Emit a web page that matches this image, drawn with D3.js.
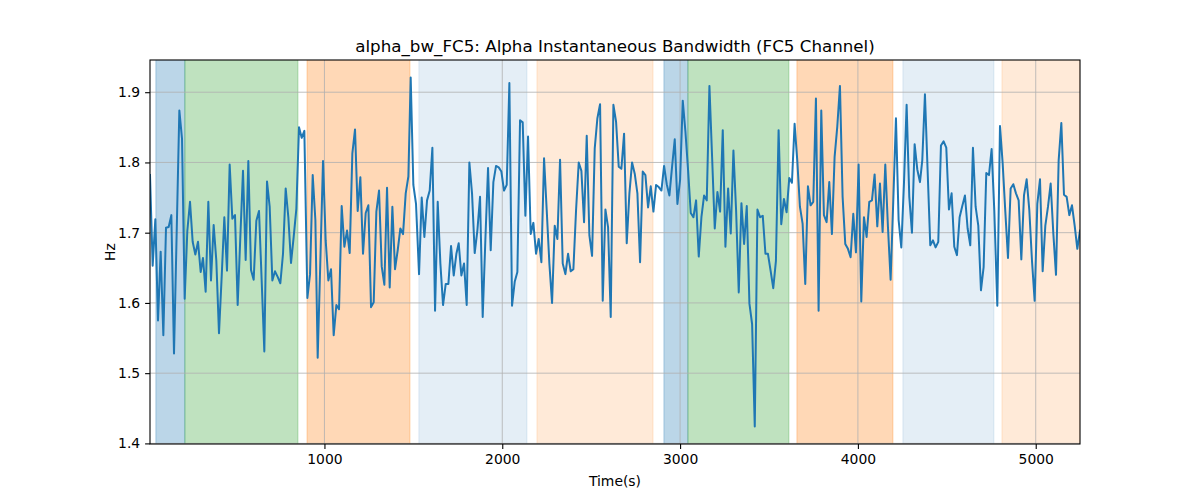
<!DOCTYPE html>
<html>
<head>
<meta charset="utf-8">
<script src="https://cdn.jsdelivr.net/npm/d3@7"></script>
<style>
  html, body { margin: 0; padding: 0; background: #fff; }
  svg { display: block; font-family: "DejaVu Sans", sans-serif; }
</style>
</head>
<body>
<svg id="chart" width="1200" height="500"></svg>
<script>
const times = [19,34,49,64,79,94,109,124,139,154,169,184,199,214,229,244,259,274,289,304,317,332,347,362,377,392,407,422,437,452,467,482,497,512,527,542,557,572,587,602,617,632,647,662,677,692,707,722,737,752,767,782,797,812,827,842,857,872,887,
904,919,934,949,962,977,992,1007,1022,1037,1052,1067,1082,1097,1112,1127,1142,1157,1172,1187,1202,1217,1232,1247,1262,1277,1292,1307,1322,1337,1352,1367,1382,1397,1412,1427,1442,1457,1472,1485,1500,1515,1532,1547,1562,1577,1592,1607,1622,1637,1652,1667,1682,1697,1712,1727,1742,
1755,1770,1785,1800,1815,1830,1845,1860,1875,1890,1905,1920,1935,1950,1965,1980,1995,2010,2025,2040,2055,2070,2085,2100,2115,2130,2145,2160,2175,2190,2205,2220,2235,2250,2265,2280,2295,2310,2325,2340,2355,2370,2385,2400,2415,2430,2445,2460,2475,2490,2505,2520,2535,2550,2565,2580,2595,2610,
2625,2640,2655,2670,2685,2700,2715,2730,2745,2760,2775,2790,2805,2820,2835,2850,2865,2880,2895,2910,2925,2940,2955,2970,2985,3000,3015,3030,3045,3060,3075,3090,3105,3120,3135,3150,3165,3180,3195,3210,3225,3240,3255,3270,3285,3300,3315,3330,3345,3360,3375,3390,3405,3420,3435,3450,3465,3480,
3494,3509,3524,3539,3554,3569,3584,3599,3614,3629,3644,3659,3674,3689,3704,3719,3734,3749,3764,3779,3794,3809,3824,3839,3854,3869,3884,3899,3914,3929,3944,3959,3974,3989,4004,4019,4034,4049,4064,4079,4094,4109,4124,4139,4154,4169,4184,4199,4214,4229,4244,4259,4274,4289,4304,4319,4334,4349,
4362,4377,4392,4407,4422,4437,4452,4467,4482,4497,4512,4527,4542,4557,4572,4587,4602,4617,4632,4647,4662,4677,4692,4707,4722,4737,4752,4767,4784,4799,4814,4829,4844,4859,4874,4889,4904,4919,4934,4949,4964,4979,4994,5009,5024,5039,5054,5069,5084,5099,5114,5129,5144,5159,5174,5189,5204,5219,5234,5249];

const values = [1.782,1.653,1.719,1.575,1.673,1.554,1.707,1.708,1.725,1.528,1.700,1.874,1.834,1.606,1.703,1.744,1.687,1.669,1.687,1.644,1.664,1.616,1.744,1.632,1.711,1.660,1.557,1.637,1.722,1.646,1.797,1.720,1.725,1.597,1.694,1.788,1.661,1.802,1.647,1.633,1.717,1.731,1.632,1.531,1.773,1.737,1.632,1.645,1.637,1.628,1.670,1.763,1.722,1.657,1.694,1.734,1.850,1.835,1.845,
1.607,1.641,1.782,1.718,1.522,1.660,1.802,1.689,1.632,1.648,1.554,1.597,1.591,1.738,1.680,1.703,1.671,1.813,1.847,1.731,1.779,1.670,1.728,1.739,1.594,1.601,1.730,1.760,1.652,1.626,1.764,1.622,1.737,1.648,1.675,1.706,1.698,1.756,1.780,1.921,1.768,1.741,1.641,1.750,1.694,1.746,1.760,1.821,1.589,1.744,1.656,1.597,1.627,1.627,1.681,1.639,1.670,
1.685,1.639,1.656,1.597,1.800,1.756,1.671,1.703,1.751,1.580,1.690,1.792,1.675,1.772,1.795,1.793,1.787,1.760,1.768,1.913,1.596,1.630,1.644,1.860,1.857,1.724,1.837,1.698,1.714,1.670,1.691,1.658,1.806,1.732,1.656,1.600,1.710,1.691,1.804,1.656,1.641,1.670,1.645,1.648,1.732,1.800,1.788,1.715,1.838,1.696,1.667,1.820,1.863,1.883,1.603,1.733,1.708,1.580,
1.882,1.858,1.794,1.791,1.841,1.685,1.756,1.800,1.784,1.756,1.658,1.787,1.782,1.736,1.766,1.730,1.768,1.765,1.760,1.795,1.769,1.753,1.794,1.833,1.741,1.775,1.888,1.844,1.789,1.728,1.722,1.746,1.666,1.722,1.753,1.746,1.909,1.808,1.706,1.758,1.730,1.846,1.680,1.763,1.699,1.817,1.732,1.615,1.742,1.684,1.738,1.599,1.570,1.424,1.733,1.722,1.724,1.670,
1.670,1.646,1.621,1.660,1.846,1.712,1.748,1.729,1.778,1.771,1.855,1.803,1.737,1.713,1.627,1.766,1.739,1.744,1.891,1.589,1.874,1.725,1.715,1.772,1.698,1.808,1.851,1.909,1.751,1.684,1.677,1.665,1.727,1.672,1.797,1.602,1.722,1.694,1.744,1.746,1.783,1.709,1.770,1.701,1.797,1.708,1.633,1.746,1.863,1.718,1.679,1.770,1.882,1.751,1.700,1.826,1.790,1.772,
1.803,1.897,1.789,1.682,1.689,1.679,1.687,1.824,1.830,1.821,1.733,1.756,1.680,1.668,1.722,1.738,1.753,1.706,1.682,1.821,1.737,1.710,1.618,1.651,1.785,1.782,1.819,1.732,1.596,1.852,1.799,1.730,1.664,1.763,1.769,1.756,1.746,1.662,1.753,1.776,1.732,1.660,1.603,1.741,1.776,1.645,1.710,1.737,1.770,1.699,1.640,1.803,1.856,1.754,1.751,1.725,1.739,1.710,1.677,1.703];

const bandStarts = [52, 215, 902, 1531, 2195, 2909, 3044, 3657, 4253, 4810];
const bandEnds   = [215, 851, 1481, 2139, 2848, 3044, 3612, 4197, 4765, 5249];
const bandKinds  = ["blue", "green", "orange", "lightblue", "lightorange", "blue", "green", "orange", "lightblue", "lightorange"];

const xTicks = [1000, 2000, 3000, 4000, 5000];
const yTicks = [1.4, 1.5, 1.6, 1.7, 1.8, 1.9];

const titleText = "alpha_bw_FC5: Alpha Instantaneous Bandwidth (FC5 Channel)";
const xLabel = "Time(s)";
const yLabel = "Hz";

const bandStyle = {
  blue:        { color: "#1f77b4", opacity: 0.3 },
  green:       { color: "#2ca02c", opacity: 0.3 },
  orange:      { color: "#ff7f0e", opacity: 0.3 },
  lightblue:   { color: "#1f77b4", opacity: 0.12 },
  lightorange: { color: "#ff7f0e", opacity: 0.16 }
};

const margin = { left: 150, right: 120, top: 60, bottom: 56 };
const W = 1200, H = 500;
const iw = W - margin.left - margin.right;
const ih = H - margin.top - margin.bottom;

const data = times.map((t, i) => ({ t, v: values[i] }));

const vmin = d3.min(values), vmax = d3.max(values);
const pad = (vmax - vmin) * 0.05;

const x = d3.scaleLinear().domain([d3.min(times), d3.max(times)]).range([0, iw]);
const y = d3.scaleLinear().domain([vmin - pad, vmax + pad]).range([ih, 0]);

const svg = d3.select("#chart");
const g = svg.append("g").attr("transform", `translate(${margin.left},${margin.top})`);

g.append("defs").append("clipPath").attr("id", "clip")
  .append("rect").attr("width", iw).attr("height", ih);

const plot = g.append("g").attr("clip-path", "url(#clip)");

// bands
plot.selectAll("rect.band")
  .data(bandStarts.map((s, i) => ({ s, e: bandEnds[i], k: bandKinds[i] })))
  .enter().append("rect")
  .attr("class", "band")
  .attr("x", d => x(d.s))
  .attr("width", d => x(d.e) - x(d.s))
  .attr("y", -2)
  .attr("height", ih + 4)
  .attr("fill", d => bandStyle[d.k].color)
  .attr("fill-opacity", d => bandStyle[d.k].opacity)
  .attr("stroke", d => bandStyle[d.k].color)
  .attr("stroke-opacity", d => bandStyle[d.k].opacity)
  .attr("stroke-width", 1);

// grid
const gridColor = "#b0b0b0";
plot.selectAll("line.gx").data(xTicks).enter().append("line")
  .attr("x1", d => x(d)).attr("x2", d => x(d))
  .attr("y1", 0).attr("y2", ih)
  .attr("stroke", gridColor).attr("stroke-width", 0.8);
plot.selectAll("line.gy").data(yTicks).enter().append("line")
  .attr("y1", d => y(d)).attr("y2", d => y(d))
  .attr("x1", 0).attr("x2", iw)
  .attr("stroke", gridColor).attr("stroke-width", 0.8);

// line
const line = d3.line().x(d => x(d.t)).y(d => y(d.v));
plot.append("path").datum(data)
  .attr("d", line)
  .attr("fill", "none")
  .attr("stroke", "#1f77b4")
  .attr("stroke-width", 2)
  .attr("stroke-linejoin", "round")
  .attr("stroke-linecap", "square");

// axes
const xAxis = d3.axisBottom(x).tickValues(xTicks).tickFormat(d3.format("d")).tickSize(4.9).tickPadding(4.9);
const yAxis = d3.axisLeft(y).tickValues(yTicks).tickFormat(d3.format(".1f")).tickSize(4.9).tickPadding(4.9);

const gx = g.append("g").attr("transform", `translate(0,${ih})`).call(xAxis);
const gy = g.append("g").call(yAxis);
[gx, gy].forEach(a => {
  a.select(".domain").remove();
  a.selectAll(".tick line").attr("stroke", "#000").attr("stroke-width", 1.1);
  a.selectAll(".tick text").attr("fill", "#000").style("font-size", "13.9px").style("font-family", "'DejaVu Sans', sans-serif");
});

// spines
g.append("rect").attr("x", 0).attr("y", 0).attr("width", iw).attr("height", ih)
  .attr("fill", "none").attr("stroke", "#000").attr("stroke-width", 1.1);

// labels
svg.append("text").attr("x", margin.left + iw / 2).attr("y", 52)
  .attr("text-anchor", "middle").style("font-size", "16.7px").attr("fill", "#000")
  .text(titleText);
svg.append("text").attr("x", margin.left + iw / 2).attr("y", 486)
  .attr("text-anchor", "middle").style("font-size", "13.9px").attr("fill", "#000")
  .text(xLabel);
svg.append("text").attr("transform", `translate(110,${margin.top + ih / 2}) rotate(-90)`)
  .attr("text-anchor", "middle").attr("dy", "0.35em").style("font-size", "13.9px").attr("fill", "#000")
  .text(yLabel);
</script>
</body>
</html>
